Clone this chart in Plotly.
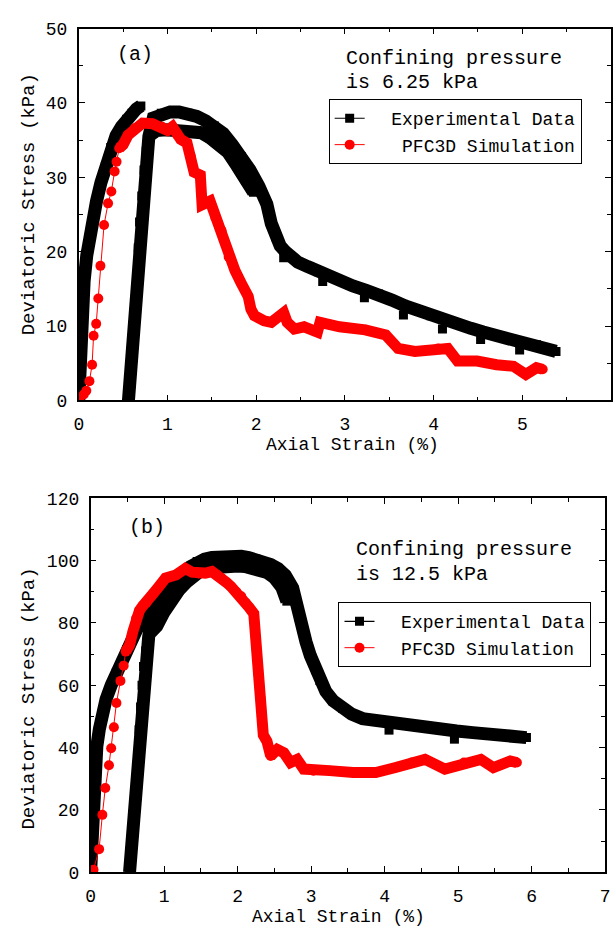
import plotly.graph_objects as go

# ---------------- Panel (a): confining pressure 6.25 kPa ----------------
# experimental data: loading branch | reloading branch + upper edge of peak + softening tail | lower edge of peak | outliers
a_exp_x = [0.0, 0.01, 0.02, 0.04, 0.06, 0.09, 0.12, 0.16, 0.2, 0.25, 0.3, 0.36, 0.42, 0.48, 0.54, 0.6, 0.65, 0.7, None,
           0.56, 0.58, 0.6, 0.62, 0.64, 0.655, 0.67, 0.685, 0.71, 0.735, 0.76, 0.79,
           0.84, 0.93, 1.03, 1.13, 1.23, 1.33, 1.43, 1.53, 1.63, 1.73, 1.83, 1.93, 2.03, 2.12,
           2.17, 2.22, 2.27, 2.33, 2.38, 2.47, 2.58, 2.7, 2.8, 2.95, 3.09, 3.24, 3.38, 3.53, 3.68, 3.83, 3.97,
           4.12, 4.27, 4.42, 4.56, 4.71, 4.86, 5.0, 5.16, 5.3, 5.38, None,
           0.82, 0.88, 0.98, 1.08, 1.18, 1.28, 1.38, 1.48, 1.58, 1.68, 1.78, 1.88, 1.97, None,
           2.31, None, 2.75, None, 3.22, None, 3.66, None, 4.1, None, 4.53, None, 4.97]
a_exp_y = [0.0, 4.0, 8.0, 12.5, 16.0, 19.5, 22.0, 24.5, 26.8, 29.3, 31.5, 34.0, 35.6, 36.8, 37.8, 38.6, 39.2, 39.6, None,
           0.0, 3.0, 6.5, 10.0, 13.5, 17.0, 20.5, 24.0, 27.5, 31.0, 33.5, 35.5,
           38.0, 38.6, 38.8, 38.8, 38.6, 38.2, 37.6, 36.9, 35.9, 34.4, 32.8, 31.0, 28.8, 26.4,
           23.8, 22.0, 20.8, 20.0, 19.4, 18.6, 18.0, 17.3, 16.8, 16.1, 15.4, 14.8, 14.3, 13.5, 12.7, 12.0, 11.4,
           10.9, 10.3, 9.7, 9.2, 8.7, 8.3, 7.9, 7.5, 6.9, 6.6, None,
           35.8, 36.3, 36.4, 36.4, 36.3, 36.2, 36.0, 35.3, 34.4, 33.4, 31.6, 29.6, 28.0, None,
           19.2, None, 16.0, None, 13.8, None, 11.5, None, 9.6, None, 8.2, None, 6.8]

a_sim_x = [0.01, 0.056, 0.085, 0.12, 0.15, 0.167, 0.196, 0.22, 0.244, 0.285, 0.33, 0.367, 0.404, 0.426, 0.456,
           0.5, 0.556, 0.63, 0.72, 0.83, 0.94, 1.0, 1.056, 1.11, 1.15, 1.22, 1.26, 1.3, 1.37, 1.39, 1.48, 1.54,
           1.61, 1.69, 1.76, 1.83, 1.91, 1.94, 1.98, 2.09, 2.17, 2.31, 2.35, 2.43, 2.54, 2.69, 2.72, 2.94, 3.23,
           3.46, 3.6, 3.79, 4.05, 4.16, 4.27, 4.49, 4.71, 4.9, 5.04, 5.16, 5.23]
a_sim_y = [0.3, 0.8, 1.3, 2.6, 4.8, 8.7, 10.3, 13.7, 18.1, 23.6, 26.5, 28.1, 30.8, 32.1, 33.9,
           34.4, 35.7, 36.6, 37.3, 37.2, 36.8, 36.3, 36.8, 35.7, 35.1, 34.6, 32.9, 30.7, 30.3, 26.3, 26.8, 24.6,
           22.8, 19.3, 17.5, 15.8, 14.0, 12.3, 11.4, 10.7, 10.5, 11.8, 10.5, 9.6, 9.9, 9.2, 10.5, 9.9, 9.5,
           8.8, 7.0, 6.6, 7.0, 7.0, 5.3, 5.3, 4.8, 4.6, 3.5, 4.4, 4.2]
a_dense_from = 14

# ---------------- Panel (b): confining pressure 12.5 kPa ----------------
b_exp_x = [0.0, 0.01, 0.02, 0.035, 0.055, 0.085, 0.12, 0.16, 0.21, 0.28, 0.35, 0.42, 0.49, 0.56, 0.63, 0.7, 0.78, None,
           0.53, 0.55, 0.575, 0.6, 0.62, 0.64, 0.66, 0.68, 0.7, 0.72, 0.75, 0.79,
           0.85, 0.95, 1.05, 1.15, 1.25, 1.35, 1.45, 1.55, 1.65, 1.75, 1.85, 1.95, 2.05, 2.15, 2.25, 2.35, 2.45,
           2.55, 2.65, 2.75,
           2.83, 2.88, 2.93, 2.99, 3.06, 3.12, 3.2, 3.3, 3.43, 3.55, 3.7, 3.83, 4.0, 4.1, 4.3, 4.55, 4.75, 4.93,
           4.98, 5.2, 5.45, 5.7, 5.93, None,
           0.82, 0.9, 1.0, 1.1, 1.2, 1.3, 1.4, 1.5, 1.6, 1.7, 1.8, 1.9, 2.0, 2.1, 2.2, 2.3, 2.4, 2.5, 2.6, 2.67,
           None, 4.06, None, 4.95]
b_exp_y = [0.0, 8.0, 16.0, 25.0, 33.0, 40.4, 46.0, 51.0, 55.5, 60.0, 64.0, 67.6, 71.5, 75.0, 78.0, 80.5, 83.0, None,
           0.0, 6.0, 14.0, 22.0, 30.0, 38.0, 45.7, 53.0, 60.0, 66.0, 71.0, 75.5,
           85.0, 88.0, 91.0, 93.5, 96.0, 98.0, 99.7, 100.5, 101.0, 101.3, 101.4, 101.5, 101.4, 101.0, 100.5, 99.7, 98.8,
           97.5, 95.3, 91.2,
           82.0, 78.0, 74.0, 69.5, 65.0, 61.5, 58.0, 55.0, 52.6, 50.8, 49.3, 48.8, 48.3, 48.2, 47.5, 46.4, 45.9, 45.4,
           45.3, 44.8, 44.2, 43.6, 43.2, None,
           77.0, 79.0, 83.5, 87.5, 90.5, 93.0, 95.5, 96.8, 97.6, 98.0, 98.3, 98.3, 98.3, 98.1, 97.8, 97.2, 96.2, 94.5,
           91.5, 87.0,
           None, 45.6, None, 42.7]

b_sim_x = [0.04, 0.116, 0.16, 0.2, 0.25, 0.28, 0.317, 0.352, 0.406, 0.45, 0.478, 0.53, 0.576, 0.62, 0.665, 0.71,
           0.76, 0.84, 0.93, 1.02, 1.16, 1.29, 1.38, 1.47, 1.56, 1.65, 1.72, 1.78, 1.85, 1.91, 1.98, 2.05, 2.11,
           2.16, 2.22, 2.25, 2.28, 2.31, 2.33, 2.35, 2.4, 2.45, 2.54, 2.63, 2.72, 2.81, 2.9, 3.03, 3.25, 3.57,
           3.88, 4.15, 4.37, 4.55, 4.82, 5.08, 5.31, 5.48, 5.71, 5.8]
b_sim_y = [0.8, 7.4, 18.4, 27.0, 34.3, 39.8, 46.5, 54.3, 61.4, 66.3, 70.8, 72.9, 77.3, 81.5, 84.0, 85.5,
           86.5, 89.1, 91.7, 94.4, 95.4, 97.5, 96.3, 95.9, 96.0, 96.5, 95.5, 94.4, 93.0, 91.7, 90.0, 88.6, 86.5,
           84.9, 83.0, 75.0, 65.0, 56.0, 50.0, 44.0, 42.0, 37.3, 39.4, 38.3, 35.2, 36.2, 33.1, 32.6, 32.6, 32.0,
           32.0, 33.6, 35.2, 36.2, 33.1, 35.2, 36.2, 33.6, 35.7, 35.2]
b_dense_from = 10

series_names = ["Experimental Data", "PFC3D Simulation"]
panel_labels = ["(a)", "(b)"]
pressure_lines = [["Confining pressure", "is 6.25 kPa"], ["Confining pressure", "is 12.5 kPa"]]
x_title = "Axial Strain (%)"
y_title = "Deviatoric Stress (kPa)"

FONT = "Liberation Mono"
W, H = 616, 938
NB = "\u00a0"

fig = go.Figure()


def add_panel(xa, ya, legend, ex, ey, sx, sy, dense_from, exp_name, sim_name):
    fig.add_trace(go.Scatter(x=ex, y=ey, xaxis=xa, yaxis=ya, mode="lines+markers",
                             line=dict(color="black", width=13), connectgaps=False,
                             marker=dict(symbol="square", size=9, color="black"),
                             showlegend=False, hoverinfo="skip"))
    fig.add_trace(go.Scatter(x=[None], y=[None], xaxis=xa, yaxis=ya, mode="lines+markers",
                             name=exp_name, legend=legend,
                             line=dict(color="black", width=1.2),
                             marker=dict(symbol="square", size=9, color="black")))
    fig.add_trace(go.Scatter(x=sx[dense_from:], y=sy[dense_from:], xaxis=xa, yaxis=ya, mode="lines",
                             line=dict(color="#ff0000", width=11), showlegend=False, hoverinfo="skip"))
    fig.add_trace(go.Scatter(x=sx, y=sy, xaxis=xa, yaxis=ya, mode="lines+markers",
                             name=sim_name, legend=legend,
                             line=dict(color="#ff0000", width=1),
                             marker=dict(symbol="circle", size=10, color="#ff0000")))


add_panel("x", "y", "legend", a_exp_x, a_exp_y, a_sim_x, a_sim_y, a_dense_from,
          NB * 2 + series_names[0], NB * 3 + series_names[1])
add_panel("x2", "y2", "legend2", b_exp_x, b_exp_y, b_sim_x, b_sim_y, b_dense_from,
          NB * 2 + series_names[0], NB * 2 + series_names[1])


def axis(domain, rng, dtick, minor_dtick, anchor):
    return dict(domain=domain, range=rng, anchor=anchor, dtick=dtick, tick0=0,
                showline=True, linecolor="black", linewidth=1.5, mirror="allticks",
                ticks="inside", ticklen=6, tickwidth=1.3, tickcolor="black",
                minor=dict(ticks="inside", ticklen=4, tickwidth=1.2, tickcolor="black", dtick=minor_dtick, tick0=0,
                           showgrid=False),
                showgrid=False, zeroline=False,
                tickfont=dict(family=FONT, size=18, color="black"),
                ticklabelstandoff=6)


def py(p):
    return 1 - p / H


legend_style = dict(xanchor="left", yanchor="top", bordercolor="black", borderwidth=1, bgcolor="white",
                    font=dict(family=FONT, size=18, color="black"), tracegroupgap=0)

fig.update_layout(
    width=W, height=H, autosize=False,
    margin=dict(l=0, r=0, t=0, b=0),
    paper_bgcolor="white", plot_bgcolor="white",
    font=dict(family=FONT, color="black"),
    xaxis=axis([75 / W, 1.0], [0, 6], 1, 0.5, "y"),
    yaxis=axis([py(400), py(20)], [0, 50], 10, 5, "x"),
    xaxis2=axis([87 / W, 610 / W], [0, 7], 1, 0.5, "y2"),
    yaxis2=axis([py(882), py(500)], [0, 120], 20, 10, "x2"),
    legend=dict(x=329 / W, y=py(92), **legend_style),
    legend2=dict(x=339 / W, y=py(606), **legend_style),
)

ann = []
ann.append(dict(x=112 / W, y=py(47), text=panel_labels[0], xanchor="left", yanchor="middle", font_size=20))
ann.append(dict(x=124 / W, y=py(530), text=panel_labels[1], xanchor="left", yanchor="middle", font_size=20))
ann.append(dict(x=345 / W, y=py(51), text=pressure_lines[0][0], xanchor="left", yanchor="middle", font_size=20))
ann.append(dict(x=345 / W, y=py(75), text=pressure_lines[0][1], xanchor="left", yanchor="middle", font_size=20))
ann.append(dict(x=355 / W, y=py(552), text=pressure_lines[1][0], xanchor="left", yanchor="middle", font_size=20))
ann.append(dict(x=355 / W, y=py(578), text=pressure_lines[1][1], xanchor="left", yanchor="middle", font_size=20))
ann.append(dict(x=353 / W, y=py(445), text=x_title, xanchor="center", yanchor="middle", font_size=18))
ann.append(dict(x=339 / W, y=py(928), text=x_title, xanchor="center", yanchor="middle", font_size=18))
ann.append(dict(x=24 / W, y=py(200), text=y_title, textangle=-90, xanchor="center", yanchor="middle", font_size=19))
ann.append(dict(x=24 / W, y=py(705), text=y_title, textangle=-90, xanchor="center", yanchor="middle", font_size=19))

for a in ann:
    fs = a.pop("font_size")
    a.update(xref="paper", yref="paper", showarrow=False, font=dict(family=FONT, size=fs, color="black"))
    fig.add_annotation(**a)

fig.write_html("out.html")
